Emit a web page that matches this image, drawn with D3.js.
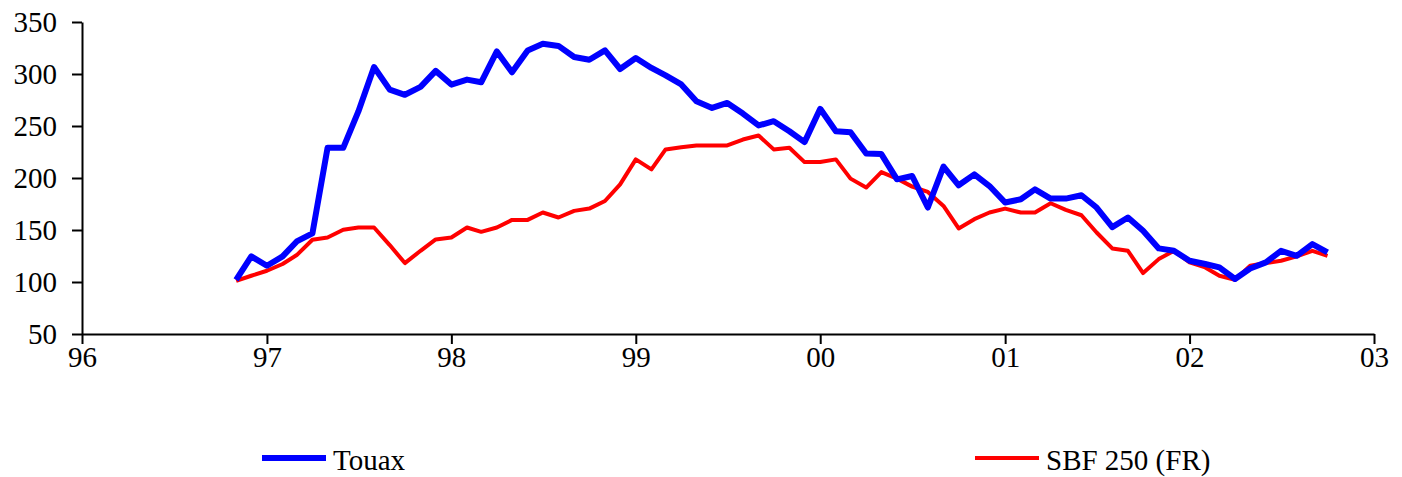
<!DOCTYPE html>
<html>
<head>
<meta charset="utf-8">
<script src="https://cdn.jsdelivr.net/npm/d3@7"></script>
<style>
  body { margin: 0; background: #fff; }
  .axis text { font-family: "Liberation Serif", "Times New Roman", serif; font-size: 29px; fill: #000; }
  .axis path, .axis line { stroke: #000; stroke-width: 2; }
  .legend text { font-family: "Liberation Serif", "Times New Roman", serif; font-size: 29px; }
</style>
</head>
<body>
<div id="chart"></div>
<script>
// monthly, Nov 1996 .. Oct 2002
const months = d3.timeMonth.range(new Date(1996, 10, 1), new Date(2002, 10, 1));

const touax = [
    102, 124.6, 115.6, 124.6, 139, 146.7, 229, 229, 264, 306.7, 285, 280,
    287.6, 303, 289.8, 294.6, 292, 321.7, 301.6, 322.7, 329, 327, 316.3, 313.7,
    322.7, 304.8, 315.4, 305.8, 298.6, 290, 273.8, 267.4, 272.2, 262, 250.5, 254.6,
    245, 234.5, 266.5, 245, 244, 223.6, 223, 198.7, 201.9, 171.6, 210.9, 193,
    203.5, 192.3, 176.4, 179.6, 189.1, 180.2, 180.2, 183.4, 171.6, 152.8, 162, 149.2,
    132.3, 130, 120.4, 117.3, 114, 102.9, 113, 118.9, 130, 125.2, 136.4, 128.5
];

const sbf250 = [
    101, 106, 110.8, 117.3, 125.9, 140.6, 142.8, 150.2, 152.4, 152.4, 135.5, 118.2,
    130, 140.9, 142.8, 152.4, 148.2, 152.4, 159.7, 159.7, 166.8, 162, 168.4, 170.6,
    177.9, 193.9, 217.9, 208.3, 227.5, 229.5, 231.3, 231.3, 231.3, 237, 240.9, 227.5,
    229.1, 215.3, 215.3, 217.9, 199.4, 190.8, 205.7, 199.4, 191.7, 186.6, 173.1, 151.5,
    160.4, 166.8, 170.6, 166.8, 166.8, 175.7, 169.3, 164.2, 147.6, 132.3, 130, 108.6,
    122, 130, 118.9, 114, 106, 102.2, 115.6, 118.2, 120.4, 124.6, 130, 125.2
];

const y_ticks = [50, 100, 150, 200, 250, 300, 350];
const series_names = ['Touax', 'SBF 250 (FR)'];

const chart_width = 1402;
const chart_height = 477;
const plot_left = 82, plot_right = 1374, plot_top = 22, plot_bottom = 334;

const svg = d3.select('#chart')
    .append('svg')
    .attr('width', chart_width)
    .attr('height', chart_height);

// Scales
const x_scale = d3.scaleTime()
    .domain([new Date(1996, 0, 1), new Date(2003, 0, 1)])
    .range([plot_left, plot_right]);

const y_scale = d3.scaleLinear()
    .domain([50, 350])
    .range([plot_bottom, plot_top]);

// Axes
const x_axis = d3.axisBottom(x_scale)
    .ticks(d3.timeYear.every(1))
    .tickFormat(d3.timeFormat('%y'))
    .tickSize(10)
    .tickSizeOuter(0)
    .tickPadding(2);
svg.append('g')
    .attr('class', 'axis')
    .attr('transform', `translate(0, ${plot_bottom})`)
    .call(x_axis);

const y_axis = d3.axisLeft(y_scale)
    .tickValues(y_ticks)
    .tickSize(10)
    .tickSizeOuter(0)
    .tickPadding(15);
svg.append('g')
    .attr('class', 'axis')
    .attr('transform', `translate(${plot_left}, 0)`)
    .call(y_axis);

// Lines
const line = d3.line()
    .x((d, i) => x_scale(months[i]))
    .y(d => y_scale(d));

svg.append('path')
    .datum(sbf250)
    .attr('fill', 'none')
    .attr('stroke', '#ff0000')
    .attr('stroke-width', 4)
    .attr('stroke-linejoin', 'round')
    .attr('d', line);

svg.append('path')
    .datum(touax)
    .attr('fill', 'none')
    .attr('stroke', '#0000ff')
    .attr('stroke-width', 6)
    .attr('stroke-linejoin', 'round')
    .attr('d', line);

// Legend
const legend = svg.append('g').attr('class', 'legend');
const legend_items = [
    { name: series_names[0], color: '#0000ff', width: 6, x: 262 },
    { name: series_names[1], color: '#ff0000', width: 4, x: 975 }
];
legend_items.forEach(d => {
    legend.append('line')
        .attr('x1', d.x).attr('x2', d.x + 64)
        .attr('y1', 458).attr('y2', 458)
        .attr('stroke', d.color)
        .attr('stroke-width', d.width);
    legend.append('text')
        .attr('x', d.x + 71)
        .attr('y', 470)
        .text(d.name);
});
</script>
</body>
</html>
